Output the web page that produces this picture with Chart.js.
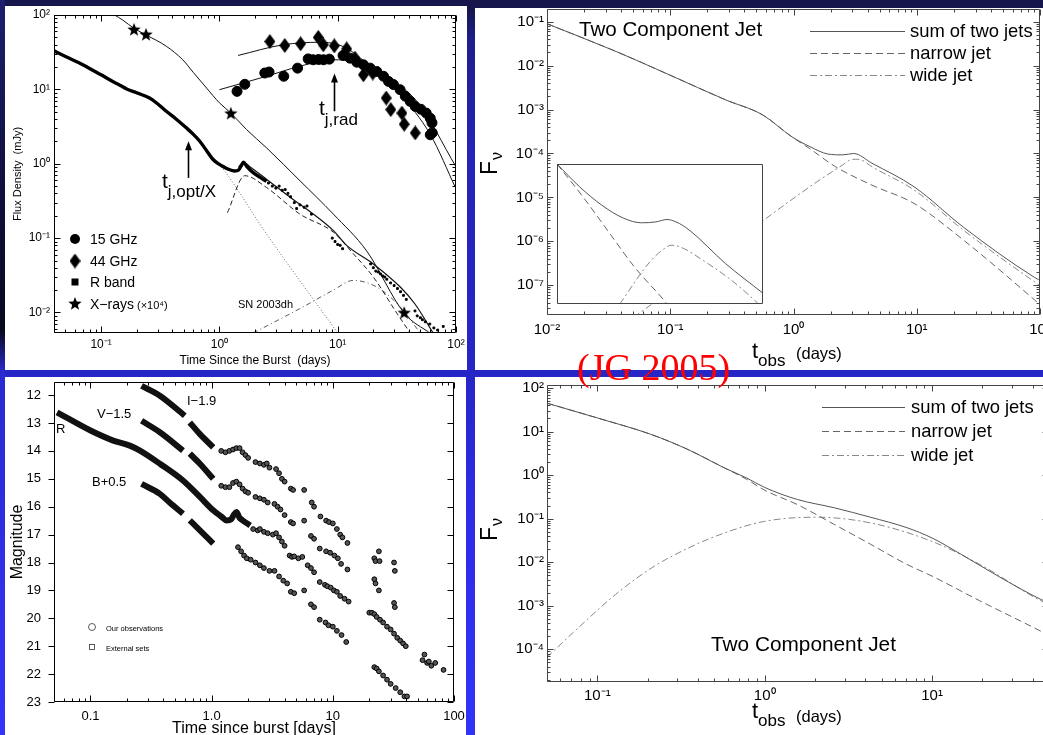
<!DOCTYPE html>
<html><head><meta charset="utf-8"><title>GRB light curves – two component jet</title>
<script src="https://cdn.jsdelivr.net/npm/chart.js@4.4.1/dist/chart.umd.min.js"></script>
<style>
html,body{margin:0;padding:0}
body{width:1043px;height:735px;overflow:hidden;position:relative;
 background:linear-gradient(180deg,#16164c 0px,#16164c 8px,#1e1e8c 40px,#2424b8 150px,#2626c6 370px,#2c2ce4 500px,#3333f8 735px);}
#strip{position:absolute;left:0;top:0;width:5px;height:735px;
 background:linear-gradient(180deg,#1e1e6e 0px,#121248 150px,#08081e 330px,#2a2ad0 372px,#3434f8 735px);}
.panel{position:absolute;background:#fff}
canvas{position:absolute}
#jg{position:absolute;left:577px;top:348px;font-size:38px;font-family:"Liberation Serif","Times New Roman",serif;color:#ff0000;line-height:38px;white-space:nowrap}
</style></head>
<body>
<div id="strip"></div>
<div class="panel" style="left:5px;top:6px;width:462px;height:364px"></div>
<div class="panel" style="left:475px;top:8px;width:568px;height:362px"></div>
<div class="panel" style="left:5px;top:377px;width:461px;height:358px"></div>
<div class="panel" style="left:475px;top:377px;width:568px;height:358px"></div>
<canvas id="c1" width="462" height="364" style="left:5px;top:6px"></canvas>
<canvas id="c2" width="600" height="370" style="left:475px;top:0px"></canvas>
<canvas id="c2i" width="208" height="142" style="left:556px;top:163px"></canvas>
<canvas id="c3" width="461" height="365" style="left:5px;top:377px"></canvas>
<canvas id="c4" width="600" height="365" style="left:475px;top:377px"></canvas>
<div id="jg">(JG 2005)</div>
<script>
// ======================= DATA =======================
// --- top-left: GRB 030329 multiwavelength light curves (flux density, mJy) ---
const tlXDecades = [0.1, 1, 10, 100];
const tlYDecades = [0.01, 0.1, 1, 10, 100];
const tlBandT = [0.04,0.05,0.07,0.1,0.13,0.15,0.163,0.2,0.257,0.3,0.356,0.43,0.525,0.6,0.68,0.78,0.88,1.0,1.1,1.2,1.35,1.45,1.52,1.6,1.7,1.93,2.2,2.5];
const tlBandF = [33,27.7,21.5,15.7,12.4,11,10.2,9.0,7.65,6.4,5.08,4.0,3.04,2.5,2.02,1.5,1.15,0.98,0.9,0.84,0.80,0.82,0.92,1.05,0.92,0.76,0.66,0.58];
const tlRPtsT = [2.6,2.8,3.0,3.2,3.4,3.6,3.8,4.0,4.3,4.5,4.8,5.2,5.5,6,9,9.5,10,10.5,11,19,20,21,22,23,24,25,26,28,30,32,34,36,38,45,47,50,52,55,60,65,70,78];
const tlRPtsF = [0.55,0.5,0.47,0.5,0.44,0.45,0.4,0.36,0.3,0.25,0.28,0.26,0.27,0.21,0.1,0.09,0.082,0.08,0.072,0.045,0.04,0.036,0.035,0.033,0.031,0.03,0.028,0.025,0.023,0.021,0.019,0.017,0.015,0.0105,0.009,0.0085,0.008,0.0075,0.007,0.0062,0.0058,0.0065];
const tl15T = [1.41,1.64,2.42,2.63,3.5,4.58,5.63,6.2,6.9,7.6,8.5,11.1,12.7,14.5,16.5,18.8,21.4,24.4,26.9,29.6,33.7,37.3,41,45.2,50.5,56,60.6,62.7,63,60.6];
const tl15F = [9.4,11.7,16.6,17.1,15,19.3,25.7,25,25.2,25,25.5,28.6,26.3,23.2,21.4,19.3,17.4,15,12.8,11.6,9.9,8.1,6.9,5.9,5.4,4.8,4.1,3.55,2.6,2.45];
const tl44T = [2.67,3.57,4.86,6.85,7.55,9.36,11.9,14,16.5,19.8,25.7,28.1,34.9,36.5,45.2];
const tl44F = [44,38.9,41,50,39.8,38.5,35,26.3,15.7,16.6,7.65,5.35,4.8,3.4,2.6];
const tlXrayT = [0.19,0.24,1.25,36.5];
const tlXrayF = [63,54,4.7,0.0098];
const tlXModT = [0.13,0.152,0.19,0.24,0.356,0.49,0.6,0.78,1.0,1.25,1.69,2.5,4.8,9.2,17.6,36.5,61];
const tlXModF = [100,85.8,66,54,38,25,17,10.4,6.6,4.8,2.9,1.64,0.59,0.21,0.067,0.0098,0.0052];
const tl44ModT = [1.44,3.46,7.08,11.1,17.6,33.7,60.6,100];
const tl44ModF = [28.6,39.8,43,37.7,22.5,8.5,2.48,0.46];
const tl15ModT = [1.0,2.5,4.8,9.2,13.5,24.4,46.7,100];
const tl15ModF = [9.9,15,20.5,25,23.7,15,6.9,0.91];
const tlOptModT = [1.45,1.6,1.8,2.5,4.2,6,9.2,11.9,20,33.8,45,64.6];
const tlOptModF = [0.9,1.05,0.92,0.62,0.33,0.22,0.126,0.08,0.045,0.022,0.013,0.0052];
const tlDashT = [1.17,1.64,2.5,4.8,9.2,13.5,20,31.6,41];
const tlDashF = [0.22,0.69,0.48,0.21,0.12,0.062,0.030,0.0098,0.0053];
const tlDotT = [0.85,1.0,2.5,10];
const tlDotF = [1.25,0.98,0.114,0.0053];
const tlSNT = [1.93,4.8,9.2,13.5,21.4,33.8,49.8];
const tlSNF = [0.0053,0.0113,0.02,0.027,0.022,0.0119,0.0053];

// --- top-right: two component jet model (with inset) ---
const trXDecades = [0.01, 0.1, 1, 10, 100];
const trYDecades = [1e-7,1e-6,1e-5,1e-4,1e-3,1e-2,1e-1];
const trSumT = [0.01,0.0364,0.098,0.282,0.56,0.97,1.36,1.91,2.51,3.08,4.33,9.5,23.9,90.6,105];
const trSumF = [0.09,0.021,6.2e-3,1.66e-3,7.6e-4,2.4e-4,1.43e-4,9.7e-5,9.3e-5,1.0e-4,6.0e-5,1.75e-5,2.1e-6,1.5e-7,1.2e-7];
const trNarrowT = [0.01,0.0364,0.098,0.282,0.56,0.97,1.36,2.19,4.33,9.5,23.9,90.6,105];
const trNarrowF = [0.09,0.021,6.2e-3,1.66e-3,7.6e-4,2.4e-4,1.28e-4,5e-5,1.9e-5,7.3e-6,1.07e-6,4.6e-8,3.2e-8];
const trWideT = [0.04,0.0548,0.57,1.56,2.51,2.9,3.19,3.6,4.33,9.5,23.9,90.6,105];
const trWideF = [1.2e-8,2.2e-8,3.0e-6,2.3e-5,5.5e-5,7.2e-5,7.4e-5,7.0e-5,5e-5,1.48e-5,1.8e-6,1.19e-7,9e-8];
const insSumT = [0.1,0.166,0.271,0.442,0.661,0.912,1.17,1.43,1.91,4.31,10];
const insSumF = [1e-4,3.24e-5,1.32e-5,6.92e-6,5.5e-6,5.75e-6,6.46e-6,5.75e-6,3.89e-6,7.41e-7,1.7e-7];
const insNarrowT = [0.1,0.178,0.316,0.562,1.17,1.58];
const insNarrowF = [1e-4,2e-5,3.55e-6,6.3e-7,1e-7,4e-8];
const insWideT = [0.407,0.794,1.12,1.28,1.58,2.9,5.0,9.08,12.6];
const insWideF = [1e-7,7.9e-7,1.58e-6,1.82e-6,1.66e-6,7.4e-7,3.16e-7,1e-7,5e-8];

// --- bottom-left: optical magnitudes ---
const blXLabels = {0.1:'0.1', 1:'1.0', 10:'10', 100:'100'};
const blYTicks = [12,13,14,15,16,17,18,19,20,21,22,23];
const blRLineT = [0.053,0.063,0.1,0.154,0.211,0.256,0.374,0.58,0.8,1.03,1.2,1.33,1.45,1.52,1.6,1.7,1.8,2.08];
const blRLineM = [12.62,12.8,13.27,13.63,13.81,13.99,14.46,15.06,15.65,16.13,16.35,16.49,16.45,16.3,16.19,16.4,16.49,16.67];
const blILineT = [0.264,0.374,0.6,0.63,0.66,0.8,1.03];
const blILineM = [11.67,12.02,12.74,null,12.98,13.4,13.87];
const blVLineT = [0.264,0.374,0.58,0.62,0.66,0.8,1.03];
const blVLineM = [12.92,13.33,13.99,null,14.1,14.46,15.0];
const blBLineT = [0.264,0.374,0.45,0.58,0.62,0.66,0.8,1.03];
const blBLineM = [15.18,15.54,15.85,16.25,null,16.49,16.85,17.32];
const blIPtsT = [1.2,1.3,1.4,1.5,1.6,1.7,1.8,1.9,2.0,2.3,2.5,2.7,2.85,3.0,3.4,3.6,3.8,4.0,4.5,4.7,5.8,6.7,7.0,7.9,8.8,9.3,10,10.8,11.5,12,13.2,22,22.5,24,24.3,32,32.5];
const blIPtsM = [14.0,14.05,14.0,13.95,13.9,13.9,14.05,14.15,14.25,14.4,14.45,14.5,14.45,14.6,14.65,14.8,15.0,15.1,15.35,15.4,15.4,15.85,16.0,16.35,16.5,16.55,16.6,16.8,17.0,17.1,17.3,17.85,17.95,17.6,17.95,18.0,18.3];
const blVPtsT = [1.2,1.3,1.4,1.5,1.6,1.7,1.8,1.9,2.0,2.3,2.5,2.7,2.9,3.3,3.5,3.7,4.0,4.5,4.7,5.8,6.6,7.0,7.8,8.8,9.5,10.3,11,11.7,13.2,22,22.5,24,32,32.5];
const blVPtsM = [15.25,15.3,15.3,15.15,15.1,15.2,15.35,15.45,15.5,15.65,15.7,15.75,15.85,15.9,16.0,16.1,16.3,16.55,16.6,16.5,17.05,17.15,17.5,17.6,17.65,17.75,17.85,18.05,18.25,18.6,18.75,19.0,19.45,19.6];
const blRPtsT = [2.2,2.4,2.5,2.7,2.9,3.2,3.4,3.6,3.8,4.0,4.4,4.6,4.8,5.2,5.6,6.2,6.6,7.0,7.8,8.6,9.0,9.6,10.2,10.8,11.5,12.5,13.5,20,21,22,23,24.5,26,28,30,32,34,36,38,40,55,57,60,62,65,70,82];
const blRPtsM = [16.8,16.85,16.8,16.9,16.95,17.0,16.95,17.1,17.25,17.4,17.75,17.8,17.78,17.85,17.8,18.1,18.2,18.35,18.7,18.8,18.85,18.9,19.0,19.05,19.2,19.3,19.4,19.8,19.8,19.85,19.95,20.05,20.15,20.3,20.4,20.55,20.7,20.8,20.9,21.0,21.5,21.3,21.6,21.55,21.7,21.6,21.85];
const blBPtsT = [1.65,1.75,1.85,1.95,2.1,2.3,2.5,2.7,3.0,3.3,3.6,3.9,4.2,4.5,4.8,5.8,6.6,7.0,7.8,8.7,9.2,10,10.8,11.8,12.9,22,23,24,26,28,30,33,36,39,41];
const blBPtsM = [17.45,17.6,17.75,17.85,17.9,18.0,18.1,18.2,18.3,18.3,18.5,18.65,18.75,19.05,19.1,19.0,19.5,19.6,20.05,20.15,20.25,20.3,20.45,20.6,20.85,21.75,21.8,21.9,22.05,22.2,22.35,22.5,22.65,22.8,22.8];

// --- bottom-right: two component jet model ---
const brXDecades = [0.1, 1, 10];
const brYDecades = [1e-4,1e-3,1e-2,1e-1,1,10,100];
const brSumT = [0.0498,0.1,0.211,0.348,0.575,0.78,1.0,1.57,2.6,4.28,7.08,10,15,24.8,44.7,55];
const brSumF = [45,20.5,8.5,3.86,1.46,0.86,0.52,0.275,0.178,0.108,0.062,0.036,0.015,0.0048,0.0014,0.001];
const brNarrowT = [0.0498,0.1,0.211,0.348,0.575,0.78,1.0,1.57,2.6,4.28,7.08,10,19.3,44.7,55];
const brNarrowF = [45,20.5,8.5,3.86,1.46,0.8,0.45,0.21,0.074,0.026,0.0089,0.0048,0.0013,2.6e-4,1.7e-4];
const brWideT = [0.0498,0.0774,0.128,0.211,0.348,0.575,1.0,2.02,4.28,10,19.3,44.7,55];
const brWideF = [6.5e-5,3.2e-4,1.8e-3,7.4e-3,0.021,0.047,0.087,0.108,0.08,0.030,0.0089,0.0013,9e-4];

// ======================= HELPERS =======================
const FONT = '"Liberation Sans", Arial, Helvetica, sans-serif';
Chart.defaults.font.family = FONT;
Chart.defaults.color = '#000';
const SUP = {'-':'\u207B','0':'\u2070','1':'\u00B9','2':'\u00B2','3':'\u00B3','4':'\u2074','5':'\u2075','6':'\u2076','7':'\u2077','8':'\u2078','9':'\u2079'};
const sup = n => String(n).split('').map(c => SUP[c]).join('');
const isDecade = v => Math.abs(Math.log10(v) - Math.round(Math.log10(v))) < 1e-6;
const decLabel = v => isDecade(v) ? '10' + sup(Math.round(Math.log10(v))) : '';
function logTicks(decades, min, max) {
  const out = [];
  const lo = Math.log10(decades[0]) - 1, hi = Math.log10(decades[decades.length - 1]) + 1;
  for (let e = lo; e <= hi; e++) for (let m = 1; m < 10; m++) {
    const v = m * Math.pow(10, e);
    if (v >= min * 0.9999 && v <= max * 1.0001) out.push(v);
  }
  return out;
}
const pts = (T, Y) => T.map((t, i) => ({x: t, y: Y[i]}));
function starCanvas(r) {
  const c = document.createElement('canvas'); c.width = c.height = 2 * r + 2;
  const g = c.getContext('2d'); g.beginPath();
  for (let i = 0; i < 10; i++) { const a = -Math.PI / 2 + i * Math.PI / 5, rr = i % 2 ? r * 0.42 : r;
    g.lineTo(r + 1 + rr * Math.cos(a), r + 1 + rr * Math.sin(a)); }
  g.closePath(); g.fillStyle = '#000'; g.fill(); return c;
}
function diamondCanvas(w, h) {
  const c = document.createElement('canvas'); c.width = w; c.height = h;
  const g = c.getContext('2d'); g.beginPath();
  g.moveTo(w / 2, 0); g.lineTo(w, h / 2); g.lineTo(w / 2, h); g.lineTo(0, h / 2); g.closePath();
  g.fillStyle = '#000'; g.fill(); return c;
}
const STAR = starCanvas(7), DIAM = diamondCanvas(11, 15);
function text(ctx, s, x, y, size, align) {
  ctx.font = size + 'px ' + FONT; ctx.fillStyle = '#000'; ctx.textAlign = align || 'left';
  ctx.textBaseline = 'alphabetic'; ctx.fillText(s, x, y);
  return ctx.measureText(s).width;
}
function frame(o) {
  return { id: 'frame', afterDatasetsDraw(chart) {
    const {ctx, chartArea: a} = chart, xs = chart.scales.x, ys = chart.scales.y;
    const L = Math.round(a.left) + 0.5, R = Math.round(a.right) - 0.5, T = Math.round(a.top) + 0.5, B = Math.round(a.bottom) - 0.5;
    ctx.save(); ctx.strokeStyle = o.color; ctx.lineWidth = 1; ctx.beginPath();
    ctx.rect(L, T, R - L, B - T);
    if (o.ticks) {
      xs.ticks.forEach(t => { const p = Math.round(xs.getPixelForValue(t.value)) + 0.5; if (p < L - 1 || p > R + 1) return;
        const len = o.xMaj(t.value) ? o.maj : o.min; ctx.moveTo(p, B); ctx.lineTo(p, B - len); ctx.moveTo(p, T); ctx.lineTo(p, T + len); });
      ys.ticks.forEach(t => { const p = Math.round(ys.getPixelForValue(t.value)) + 0.5; if (p < T - 1 || p > B + 1) return;
        const len = o.yMaj(t.value) ? o.maj : o.min;
        if (o.leftOut) { ctx.moveTo(L, p); ctx.lineTo(L - len, p); } else { ctx.moveTo(L, p); ctx.lineTo(L + len, p); }
        ctx.moveTo(R, p); ctx.lineTo(R - len, p); });
    }
    ctx.stroke(); ctx.restore();
    if (o.extra) { ctx.save(); o.extra(chart, ctx); ctx.restore(); }
  }};
}
function logAxis(o) {
  const s = {
    type: 'logarithmic', min: o.min, max: o.max, position: o.pos,
    grid: {display: false, drawTicks: false}, border: {display: false},
    afterBuildTicks: sc => { sc.ticks = o.ticks.map(v => ({value: v})); },
    ticks: {autoSkip: false, maxRotation: 0, minRotation: 0, padding: o.pad, font: {size: o.fs}, color: '#000', callback: o.cb || decLabel},
    title: o.title ? o.title : {display: false}
  };
  s.afterFit = sc => { if (o.pos === 'bottom') { sc.height = o.size; sc.paddingLeft = 0; sc.paddingRight = 0; } else { sc.width = o.size; sc.paddingTop = 0; sc.paddingBottom = 0; } };
  return s;
}
const line = (T, Y, color, width, dash, extra) => Object.assign({data: pts(T, Y), borderColor: color, borderWidth: width, borderDash: dash || [],
  pointRadius: 0, fill: false, cubicInterpolationMode: 'monotone', spanGaps: false}, extra || {});
const scatter = (T, Y, style, r, fillc, borderc, extra) => Object.assign({data: pts(T, Y), showLine: false, pointStyle: style, pointRadius: r,
  backgroundColor: fillc, borderColor: borderc, borderWidth: 1}, extra || {});
const baseOpts = (pad) => ({responsive: false, animation: false, devicePixelRatio: 1, layout: {padding: pad},
  plugins: {legend: {display: false}, tooltip: {enabled: false}, title: {display: false}}});

// ======================= CHART 1: top-left =======================
(function () {
  const o = baseOpts({left: 0, top: 7, right: 11, bottom: 0});
  o.scales = {
    x: logAxis({min: 0.04, max: 100, pos: 'bottom', ticks: logTicks(tlXDecades, 0.04, 100), pad: 4, fs: 12, size: 37,
      title: {display: true, text: 'Time Since the Burst  (days)', font: {size: 12}, padding: {top: 0, bottom: 2}}}),
    y: logAxis({min: 0.0053, max: 100, pos: 'left', ticks: logTicks(tlYDecades, 0.0053, 100), pad: 4, fs: 12, size: 49,
      title: {display: true, text: 'Flux Density  (mJy)', font: {size: 11}, padding: {top: 6, bottom: 0}}})
  };
  const ox = 5, oy = 6;
  const ann = (chart, ctx) => {
    const xs = chart.scales.x, ys = chart.scales.y;
    const arrow = (t, f0, f1) => { const x = Math.round(xs.getPixelForValue(t)) + 0.5, y0 = ys.getPixelForValue(f0), y1 = ys.getPixelForValue(f1);
      ctx.strokeStyle = '#000'; ctx.lineWidth = 1.6; ctx.beginPath(); ctx.moveTo(x, y0); ctx.lineTo(x, y1 + 6); ctx.stroke();
      ctx.fillStyle = '#000'; ctx.beginPath(); ctx.moveTo(x, y1); ctx.lineTo(x - 3.5, y1 + 9); ctx.lineTo(x + 3.5, y1 + 9); ctx.closePath(); ctx.fill(); };
    arrow(0.54, 0.645, 2.0);
    arrow(9.3, 5.08, 16.4);
    let w = text(ctx, 't', 162 - ox, 188 - oy, 21);
    text(ctx, 'j,opt/X', 162 - ox + w, 197 - oy, 17);
    w = text(ctx, 't', 319 - ox, 115 - oy, 21);
    text(ctx, 'j,rad', 319 - ox + w, 125 - oy, 17);
    text(ctx, 'SN 2003dh', 238 - ox, 308 - oy, 11);
    const mx = 75 - ox;
    ctx.fillStyle = '#000';
    ctx.beginPath(); ctx.arc(mx, 239 - oy, 5, 0, 2 * Math.PI); ctx.fill();
    ctx.drawImage(DIAM, mx - 5.5, 261 - oy - 7.5);
    ctx.fillRect(mx - 3.5, 282 - oy - 3.5, 7, 7);
    ctx.drawImage(STAR, mx - 8, 304 - oy - 8);
    text(ctx, '15 GHz', 90 - ox, 244 - oy, 14);
    text(ctx, '44 GHz', 90 - ox, 266 - oy, 14);
    text(ctx, 'R band', 90 - ox, 287 - oy, 14);
    w = text(ctx, 'X\u2212rays', 90 - ox, 309 - oy, 14);
    text(ctx, '(\u00D710\u2074)', 90 - ox + w + 3, 309 - oy, 11);
  };
  new Chart(document.getElementById('c1'), {
    type: 'line',
    data: {datasets: [
      scatter(tlXrayT, tlXrayF, STAR, 8, '#000', '#000'),
      scatter(tl44T, tl44F, DIAM, 8, '#000', '#000'),
      scatter(tl15T, tl15F, 'circle', 5, '#000', '#000'),
      line(tl15ModT, tl15ModF, '#111', 1),
      line(tl44ModT, tl44ModF, '#111', 1),
      line(tlBandT, tlBandF, '#000', 3.4),
      scatter(tlRPtsT, tlRPtsF, 'rect', 1.3, '#000', '#000'),
      line(tlXModT, tlXModF, '#111', 1),
      line(tlOptModT, tlOptModF, '#111', 1.2),
      line(tlDashT, tlDashF, '#222', 1, [5, 3]),
      line(tlDotT, tlDotF, '#666', 1, [1, 2]),
      line(tlSNT, tlSNF, '#333', 0.8, [5, 3, 1, 3])
    ]},
    options: o,
    plugins: [frame({color: '#000', ticks: true, maj: 6, min: 3, xMaj: isDecade, yMaj: isDecade, extra: ann})]
  });
})();

// ======================= CHART 2: top-right =======================
(function () {
  const o = baseOpts({left: 0, top: 9, right: 35, bottom: 0});
  o.scales = {
    x: logAxis({min: 0.01, max: 100, pos: 'bottom', ticks: logTicks(trXDecades, 0.01, 100), pad: 6, fs: 15, size: 55}),
    y: logAxis({min: 2.1e-8, max: 0.195, pos: 'left', ticks: logTicks(trYDecades, 2.1e-8, 0.195), pad: 3, fs: 15, size: 72})
  };
  const ox = 475, oy = 0;
  const ann = (chart, ctx) => {
    text(ctx, 'Two Component Jet', 579 - ox, 36 - oy, 20.6);
    const leg = [['sum of two jets', [], '#555'], ['narrow jet', [7, 4], '#666'], ['wide jet', [7, 3, 2, 3], '#888']];
    leg.forEach((l, i) => { const y = 31 + 22 * i - oy + 0.5;
      ctx.strokeStyle = l[2]; ctx.lineWidth = 1; ctx.setLineDash(l[1]); ctx.beginPath(); ctx.moveTo(810 - ox, y); ctx.lineTo(905 - ox, y); ctx.stroke();
      ctx.setLineDash([]); text(ctx, l[0], 910 - ox, 37 + 22 * i - oy, 18.4); });
    ctx.save(); ctx.translate(497 - ox, 175 - oy); ctx.rotate(-Math.PI / 2);
    const w = text(ctx, 'F', 0, 0, 23); text(ctx, '\u03BD', w + 1, 5, 16); ctx.restore();
    let w2 = text(ctx, 't', 752 - ox, 358 - oy, 22);
    w2 += text(ctx, 'obs', 752 - ox + w2, 366 - oy, 17);
    text(ctx, '(days)', 796 - ox, 359 - oy, 16.5);
  };
  new Chart(document.getElementById('c2'), {
    type: 'line',
    data: {datasets: [
      line(trSumT, trSumF, '#555', 1),
      line(trNarrowT, trNarrowF, '#666', 1, [7, 4]),
      line(trWideT, trWideF, '#888', 1, [7, 3, 2, 3])
    ]},
    options: o,
    plugins: [frame({color: '#444', ticks: true, maj: 6, min: 3, xMaj: isDecade, yMaj: isDecade, extra: ann})]
  });
  const oi = baseOpts({left: 1, top: 1, right: 1, bottom: 1});
  oi.scales = {
    x: {type: 'logarithmic', min: 0.1, max: 10, display: false},
    y: {type: 'logarithmic', min: 1e-7, max: 1e-4, display: false}
  };
  new Chart(document.getElementById('c2i'), {
    type: 'line',
    data: {datasets: [
      line(insSumT, insSumF, '#555', 1),
      line(insNarrowT, insNarrowF, '#666', 1, [7, 4]),
      line(insWideT, insWideF, '#888', 1, [7, 3, 2, 3])
    ]},
    options: oi,
    plugins: [{id: 'bg', beforeDatasetsDraw(chart) { const a = chart.chartArea, c = chart.ctx; c.save(); c.fillStyle = '#fff'; c.fillRect(a.left, a.top, a.right - a.left, a.bottom - a.top); c.restore(); }},
      frame({color: '#444', ticks: false})]
  });
})();

// ======================= CHART 3: bottom-left =======================
(function () {
  const o = baseOpts({left: 0, top: 4, right: 12, bottom: 0});
  o.scales = {
    x: logAxis({min: 0.05, max: 100, pos: 'bottom', ticks: logTicks([0.1, 1, 10, 100], 0.05, 100), pad: 7, fs: 13, size: 40,
      cb: v => blXLabels[Math.round(v * 1000) / 1000] || '',
      title: {display: true, text: 'Time since burst [days]', font: {size: 16}, padding: {top: 0, bottom: 4}}}),
    y: {type: 'linear', min: 11.53, max: 23, reverse: true, position: 'left',
      grid: {display: false, drawTicks: false}, border: {display: false},
      afterBuildTicks: sc => { sc.ticks = blYTicks.map(v => ({value: v})); },
      afterFit: sc => { sc.width = 49; sc.paddingTop = 0; sc.paddingBottom = 0; },
      ticks: {autoSkip: false, padding: 13, font: {size: 13}, color: '#000', callback: v => String(v)},
      title: {display: true, text: 'Magnitude', font: {size: 16}, padding: {top: 3, bottom: 0}}}
  };
  const ox = 5, oy = 377;
  const ann = (chart, ctx) => {
    text(ctx, 'R', 56 - ox, 433 - oy, 13);
    text(ctx, 'V\u22121.5', 97 - ox, 418 - oy, 13);
    text(ctx, 'I\u22121.9', 187 - ox, 405 - oy, 13);
    text(ctx, 'B+0.5', 92 - ox, 486 - oy, 13);
    ctx.strokeStyle = '#333'; ctx.lineWidth = 0.8;
    ctx.beginPath(); ctx.arc(92 - ox, 627 - oy, 3.5, 0, 2 * Math.PI); ctx.stroke();
    ctx.strokeRect(89.5 - ox, 644.5 - oy, 5, 5);
    text(ctx, 'Our observations', 106 - ox, 631 - oy, 7.5);
    text(ctx, 'External sets', 106 - ox, 651 - oy, 7.5);
  };
  new Chart(document.getElementById('c3'), {
    type: 'line',
    data: {datasets: [
      line(blRLineT, blRLineM, '#111', 6),
      line(blILineT, blILineM, '#111', 6),
      line(blVLineT, blVLineM, '#111', 6),
      line(blBLineT, blBLineM, '#111', 6),
      scatter(blIPtsT, blIPtsM, 'circle', 2.4, '#555', '#000'),
      scatter(blVPtsT, blVPtsM, 'circle', 2.4, '#555', '#000'),
      scatter(blRPtsT, blRPtsM, 'circle', 2.4, '#555', '#000'),
      scatter(blBPtsT, blBPtsM, 'circle', 2.4, '#555', '#000')
    ]},
    options: o,
    plugins: [frame({color: '#000', ticks: true, maj: 6, min: 3, leftOut: true, xMaj: isDecade, yMaj: () => true, extra: ann})]
  });
})();

// ======================= CHART 4: bottom-right =======================
(function () {
  const o = baseOpts({left: 0, top: 8, right: 26, bottom: 0});
  o.scales = {
    x: logAxis({min: 0.05, max: 50, pos: 'bottom', ticks: logTicks(brXDecades, 0.05, 50), pad: 5, fs: 15, size: 60}),
    y: logAxis({min: 1.78e-5, max: 117, pos: 'left', ticks: logTicks(brYDecades, 1.78e-5, 117), pad: 3, fs: 15, size: 72})
  };
  const ox = 475, oy = 377;
  const ann = (chart, ctx) => {
    text(ctx, 'Two Component Jet', 711 - ox, 651 - oy, 20.8);
    const leg = [['sum of two jets', [], '#555'], ['narrow jet', [7, 4], '#666'], ['wide jet', [7, 3, 2, 3], '#888']];
    leg.forEach((l, i) => { const y = 407 + 24 * i - oy + 0.5;
      ctx.strokeStyle = l[2]; ctx.lineWidth = 1; ctx.setLineDash(l[1]); ctx.beginPath(); ctx.moveTo(822 - ox, y); ctx.lineTo(905 - ox, y); ctx.stroke();
      ctx.setLineDash([]); text(ctx, l[0], 911 - ox, 413 + 24 * i - oy, 18.4); });
    ctx.save(); ctx.translate(497 - ox, 541 - oy); ctx.rotate(-Math.PI / 2);
    const w = text(ctx, 'F', 0, 0, 23); text(ctx, '\u03BD', w + 1, 5, 16); ctx.restore();
    let w2 = text(ctx, 't', 752 - ox, 718 - oy, 22);
    w2 += text(ctx, 'obs', 752 - ox + w2, 726 - oy, 17);
    text(ctx, '(days)', 796 - ox, 722 - oy, 16.5);
  };
  new Chart(document.getElementById('c4'), {
    type: 'line',
    data: {datasets: [
      line(brSumT, brSumF, '#555', 1),
      line(brNarrowT, brNarrowF, '#666', 1, [7, 4]),
      line(brWideT, brWideF, '#888', 1, [7, 3, 2, 3])
    ]},
    options: o,
    plugins: [frame({color: '#444', ticks: true, maj: 6, min: 3, xMaj: isDecade, yMaj: isDecade, extra: ann})]
  });
})();
</script>
</body></html>
